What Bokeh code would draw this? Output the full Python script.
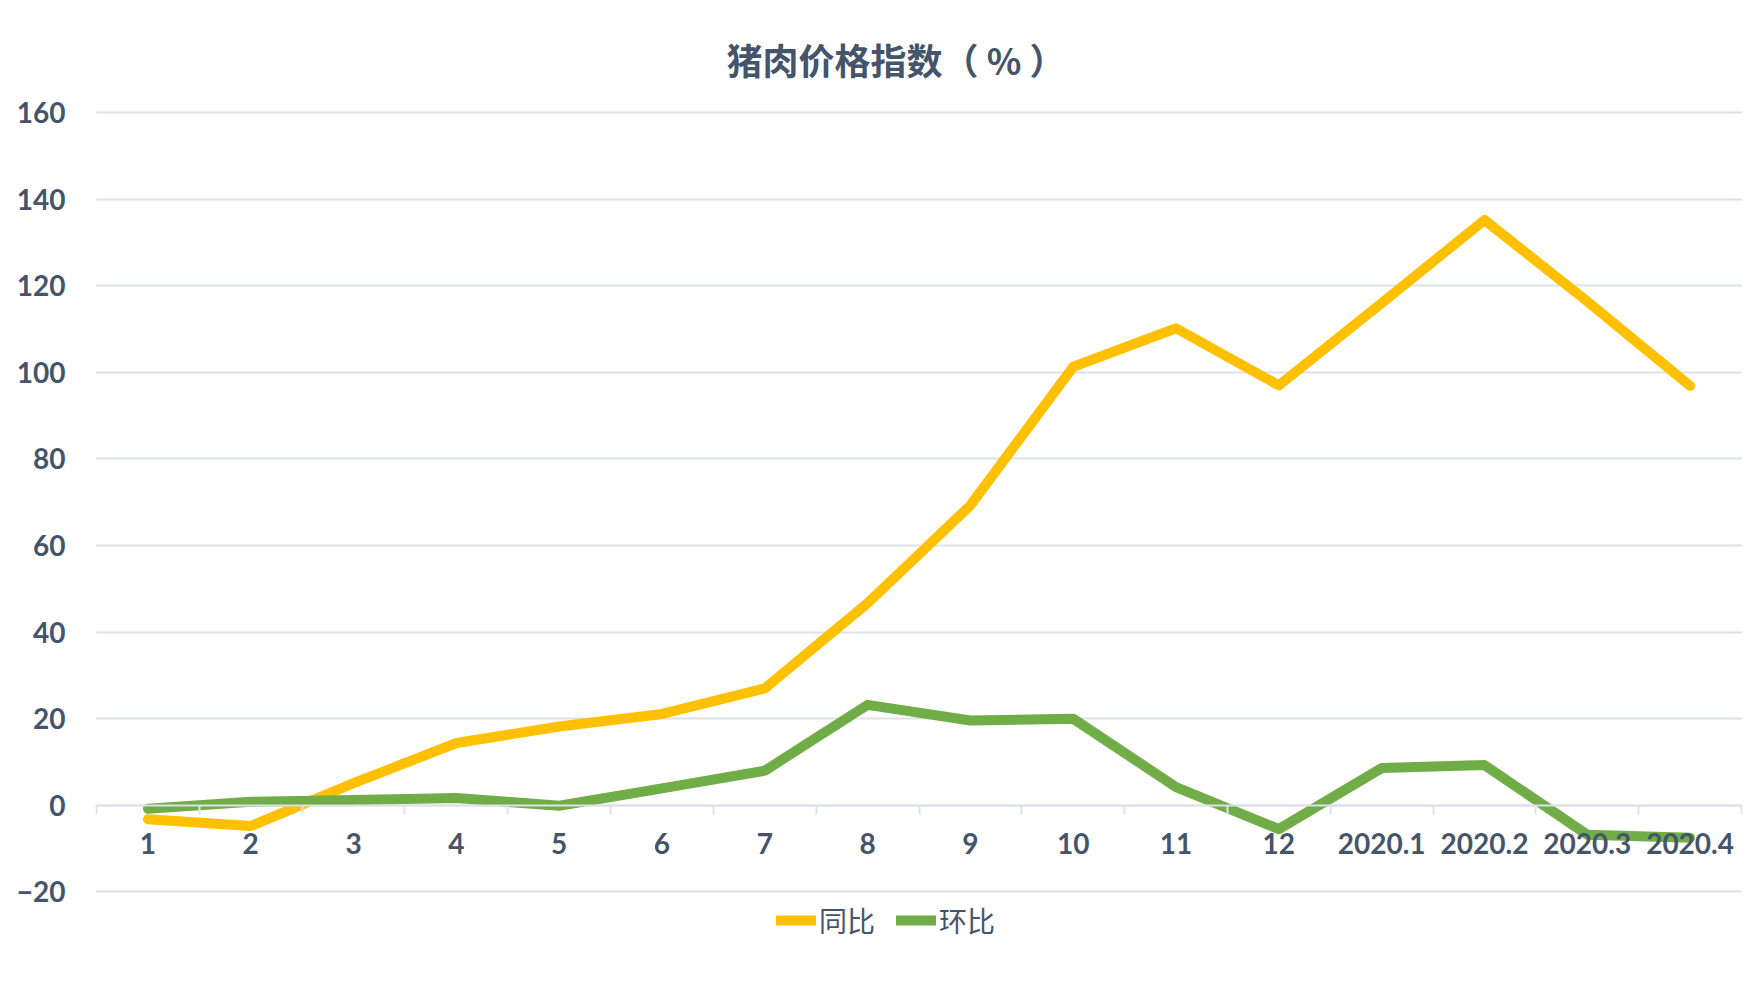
from bokeh.plotting import figure
from bokeh.models import FixedTicker, Range1d, Legend, LegendItem, Title
from bokeh.embed import file_html
from bokeh.resources import INLINE

categories = ["1", "2", "3", "4", "5", "6", "7", "8", "9", "10", "11", "12",
              "2020.1", "2020.2", "2020.3", "2020.4"]
yoy = [-3.2, -4.8, 5.1, 14.4, 18.2, 21.1, 27.0, 46.7, 69.3, 101.3, 110.2, 97.0,
       116.0, 135.2, 116.4, 96.9]
mom = [-0.8, 0.8, 1.2, 1.7, -0.1, 3.9, 8.0, 23.2, 19.6, 20.0, 4.2, -5.5,
       8.6, 9.3, -6.8, -7.5]
y_ticks = [-20, 0, 20, 40, 60, 80, 100, 120, 140, 160]
series_names = ["同比", "环比"]
series_colors = ["#FFC000", "#70AD47"]

TEXT = "#44546A"
GRID = "#DEE2E8"

n = len(categories)
xs = list(range(n))
pad_x = 0.01

# range extends below the last gridline to leave room for the legend
p = figure(width=1756, height=970, output_backend="svg", toolbar_location=None,
           x_range=Range1d(-0.5 - pad_x, n - 0.5 + pad_x),
           y_range=Range1d(-34, 160.5),
           min_border_left=95, min_border_right=14, min_border_top=110,
           min_border_bottom=18)
p.outline_line_color = None
p.background_fill_color = "white"

title = Title(text="猪肉价格指数（ % ）", align="left", offset=631,
              text_font="Noto Sans CJK SC", text_font_style="bold",
              text_font_size="36px", text_color=TEXT, standoff=51)
p.add_layout(title, "above")

# y axis
p.yaxis.ticker = FixedTicker(ticks=y_ticks)
p.yaxis.axis_line_color = None
p.yaxis.major_tick_line_color = None
p.yaxis.minor_tick_line_color = None
p.yaxis.major_label_text_font = "Lato"
p.yaxis.major_label_text_font_style = "bold"
p.yaxis.major_label_text_font_size = "28px"
p.yaxis.major_label_text_color = TEXT
p.yaxis.major_label_standoff = 24

p.ygrid.ticker = FixedTicker(ticks=y_ticks)
p.ygrid.grid_line_color = GRID
p.ygrid.grid_line_width = 2
p.xgrid.visible = False

# x axis at y = 0
p.xaxis.ticker = FixedTicker(ticks=xs, minor_ticks=[i - 0.5 for i in range(n + 1)])
p.xaxis.fixed_location = 0
p.xaxis.axis_line_color = GRID
p.xaxis.axis_line_width = 2
p.xaxis.major_tick_line_color = None
p.xaxis.major_tick_out = 0
p.xaxis.major_tick_in = 0
p.xaxis.minor_tick_line_color = GRID
p.xaxis.minor_tick_line_width = 2
p.xaxis.minor_tick_out = 9
p.xaxis.minor_tick_in = 0
p.xaxis.major_label_overrides = {i: c for i, c in zip(xs, categories)}
p.xaxis.major_label_text_font = "Lato"
p.xaxis.major_label_text_font_style = "bold"
p.xaxis.major_label_text_font_size = "28px"
p.xaxis.major_label_text_color = TEXT
p.xaxis.major_label_standoff = 19

r1 = p.line(xs, yoy, line_color=series_colors[0], line_width=10,
            line_cap="round", line_join="round")
r2 = p.line(xs, mom, line_color=series_colors[1], line_width=10,
            line_cap="round", line_join="round")

legend = Legend(items=[LegendItem(label=series_names[0], renderers=[r1]),
                       LegendItem(label=series_names[1], renderers=[r2])],
                location=(681, 12), orientation="horizontal",
                glyph_width=40, glyph_height=20, label_standoff=3, spacing=21,
                padding=0, margin=0, border_line_color=None,
                background_fill_alpha=0,
                label_text_font="Noto Sans CJK SC", label_text_font_size="28px",
                label_text_color=TEXT)
p.add_layout(legend, "center")

open("out.html", "w").write(file_html(p, INLINE))
